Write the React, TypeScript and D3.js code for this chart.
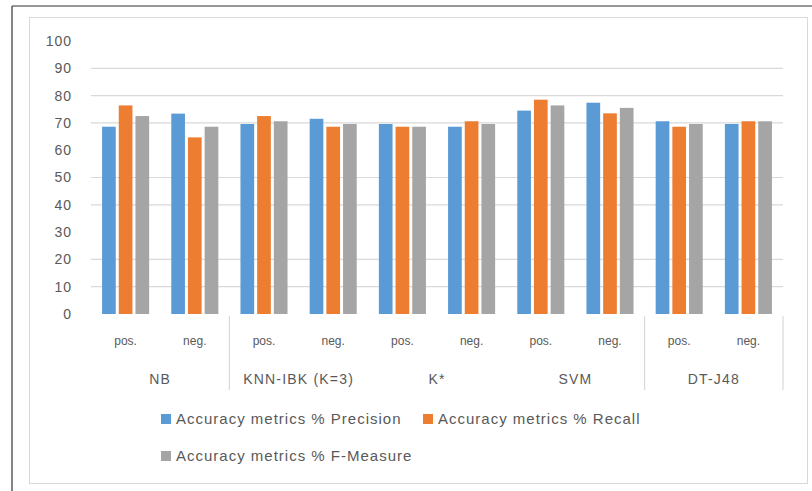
import * as d3 from 'd3';

// chart data
const groups = ['NB', 'KNN-IBK (K=3)', 'K*', 'SVM', 'DT-J48'];
const classes = ['pos.', 'neg.'];
const seriesNames = [
    'Accuracy metrics % Precision',
    'Accuracy metrics % Recall',
    'Accuracy metrics % F-Measure',
];
const precision = [68.6, 73.4, 69.6, 71.5, 69.6, 68.6, 74.5, 77.4, 70.6, 69.6];
const recall = [76.4, 64.7, 72.5, 68.6, 68.6, 70.6, 78.5, 73.5, 68.6, 70.6];
const fMeasure = [72.5, 68.6, 70.6, 69.6, 68.6, 69.6, 76.4, 75.5, 69.6, 70.6];
const yTicks = [0, 10, 20, 30, 40, 50, 60, 70, 80, 90, 100];
const gridTicks = [10, 20, 40, 50, 70, 80, 90];
// group boundaries where a divider shows under the axis
const dividerAfter = [0, 3, 4];

const colors = ['#5B9BD5', '#ED7D31', '#A5A5A5'];
const textColor = '#595959';
const font = '"Liberation Sans", Arial, sans-serif';

export default function App() {
    const width = 812,
        height = 491;
    const plot = { left: 91, right: 783, top: 41, bottom: 314 };

    const cats = groups.flatMap((g) => classes.map((c) => `${g}|${c}`));
    const values = [precision, recall, fMeasure];

    const x = d3.scaleBand().domain(cats).range([plot.left, plot.right]);
    const bw = x.bandwidth();
    const xs = d3
        .scaleBand<number>()
        .domain([0, 1, 2])
        .range([bw * 0.16, bw * 0.84])
        .paddingInner(0.18);
    const y = d3.scaleLinear().domain([0, 100]).range([plot.bottom, plot.top]);

    const groupW = bw * classes.length;

    return (
        <svg
            width={width}
            height={height}
            style={{ position: 'absolute', left: 0, top: 0, background: '#fff' }}
            fontFamily={font}
        >
            {/* outer page border */}
            <line x1={12} y1={6} x2={812} y2={6} stroke="#333" strokeWidth={1.2} />
            <line x1={12} y1={6} x2={12} y2={491} stroke="#333" strokeWidth={1.2} />
            {/* chart area frame */}
            <rect x={29.5} y={17.5} width={778} height={466} fill="#fff" stroke="#D9D9D9" />

            {gridTicks.map((t) => (
                <line
                    key={t}
                    x1={plot.left}
                    x2={plot.right}
                    y1={y(t)}
                    y2={y(t)}
                    stroke="#D9D9D9"
                    strokeWidth={1.2}
                />
            ))}

            {yTicks.map((t) => (
                <text
                    key={t}
                    x={72}
                    y={y(t)}
                    dy="0.35em"
                    textAnchor="end"
                    fontSize={14}
                    letterSpacing={1}
                    fill={textColor}
                >
                    {t}
                </text>
            ))}

            {values.map((vals, si) =>
                vals.map((v, i) => (
                    <rect
                        key={`${si}-${i}`}
                        x={(x(cats[i]) ?? 0) + (xs(si) ?? 0)}
                        y={y(v)}
                        width={xs.bandwidth()}
                        height={y(0) - y(v)}
                        fill={colors[si]}
                    />
                ))
            )}

            {cats.map((c) => (
                <text
                    key={c}
                    x={(x(c) ?? 0) + bw / 2}
                    y={345}
                    textAnchor="middle"
                    fontSize={12}
                    fill={textColor}
                >
                    {c.split('|')[1]}
                </text>
            ))}

            {groups.map((g, gi) => (
                <text
                    key={g}
                    x={plot.left + groupW * gi + groupW / 2}
                    y={384}
                    textAnchor="middle"
                    fontSize={14}
                    letterSpacing={1.2}
                    fill={textColor}
                >
                    {g}
                </text>
            ))}

            {dividerAfter.map((gi) => {
                const xx = plot.left + groupW * (gi + 1);
                return (
                    <line
                        key={gi}
                        x1={xx}
                        x2={xx}
                        y1={316}
                        y2={390}
                        stroke="#D9D9D9"
                        strokeWidth={1.2}
                    />
                );
            })}

            {seriesNames.map((name, si) => {
                const lx = si === 1 ? 423 : 161;
                const ly = si === 2 ? 456 : 419;
                return (
                    <g key={name} transform={`translate(${lx},${ly})`}>
                        <rect x={0} y={-5} width={10} height={10} fill={colors[si]} />
                        <text
                            x={15}
                            y={0}
                            dy="0.35em"
                            fontSize={15}
                            letterSpacing={1}
                            fill={textColor}
                        >
                            {name}
                        </text>
                    </g>
                );
            })}
        </svg>
    );
}
